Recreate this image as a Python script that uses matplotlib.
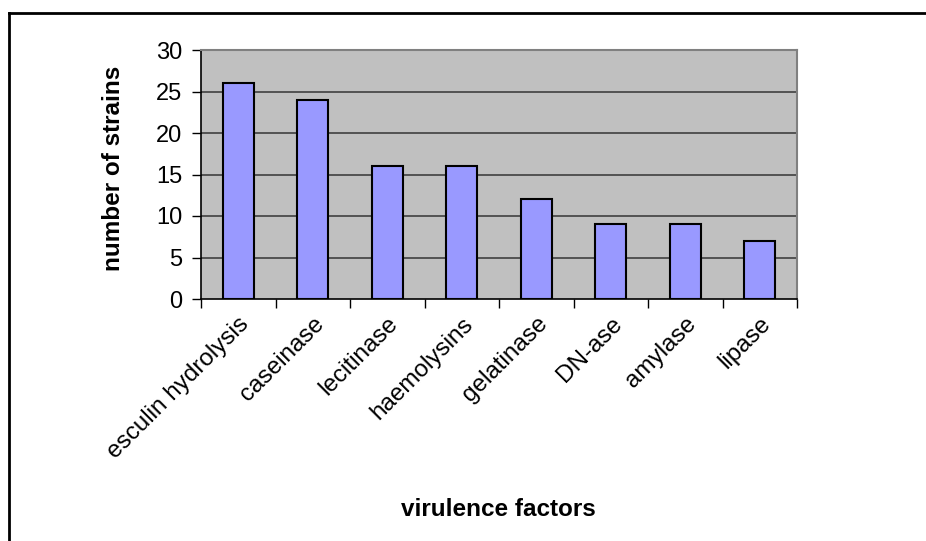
import matplotlib.pyplot as plt
from matplotlib.lines import Line2D

factors = ['esculin hydrolysis', 'caseinase', 'lecitinase', 'haemolysins',
           'gelatinase', 'DN-ase', 'amylase', 'lipase']
strains = [26, 24, 16, 16, 12, 9, 9, 7]
yticks = [0, 5, 10, 15, 20, 25, 30]

plt.rcParams['font.family'] = ['Liberation Sans', 'DejaVu Sans']

fig = plt.figure(figsize=(9.26, 5.41), dpi=100)
ax = fig.add_axes([201 / 926, 1 - 299 / 541, 596 / 926, 249 / 541])
ax.set_facecolor('#C0C0C0')

x = list(range(len(factors)))
ax.bar(x, strains, width=0.42, color='#9999FF', edgecolor='black', linewidth=1.5, zorder=3)

ax.set_xlim(-0.5, len(factors) - 0.5)
ax.set_ylim(0, 30)
ax.set_yticks(yticks)
ax.tick_params(axis='y', labelsize=17, length=6.5, width=1, direction='out', pad=7)
for v in yticks[1:-1]:
    ax.axhline(v, color='#404040', linewidth=1.2, zorder=1)

# category boundary ticks, labels at bar centres
ax.set_xticks([i - 0.5 for i in range(len(factors) + 1)])
ax.set_xticklabels([])
ax.tick_params(axis='x', length=6.5, width=1, direction='out')
ax.set_xticks(x, minor=True)
ax.set_xticklabels(factors, minor=True, rotation=45, ha='right', va='top',
                   rotation_mode='anchor', fontsize=17.5)
ax.tick_params(axis='x', which='minor', length=0, pad=10)

for s in ['left', 'bottom']:
    ax.spines[s].set_color('black')
    ax.spines[s].set_linewidth(1.2)
for s in ['top', 'right']:
    ax.spines[s].set_color('#808080')
    ax.spines[s].set_linewidth(1.5)

fig.text(114 / 926, 1 - 168 / 541, 'number of strains', fontsize=17.5, fontweight='bold',
         rotation=90, ha='center', va='center')
fig.text(498 / 926, 1 - 510 / 541, 'virulence factors', fontsize=17.5,
         fontweight='bold', ha='center', va='center')

# outer chart border (top and left visible)
fig.add_artist(Line2D([8.5 / 926, 1.0], [1 - 13 / 541, 1 - 13 / 541], color='black', linewidth=2))
fig.add_artist(Line2D([8.5 / 926, 8.5 / 926], [1 - 13 / 541, 0.0], color='black', linewidth=2))

fig.savefig('out.png', dpi=100)
